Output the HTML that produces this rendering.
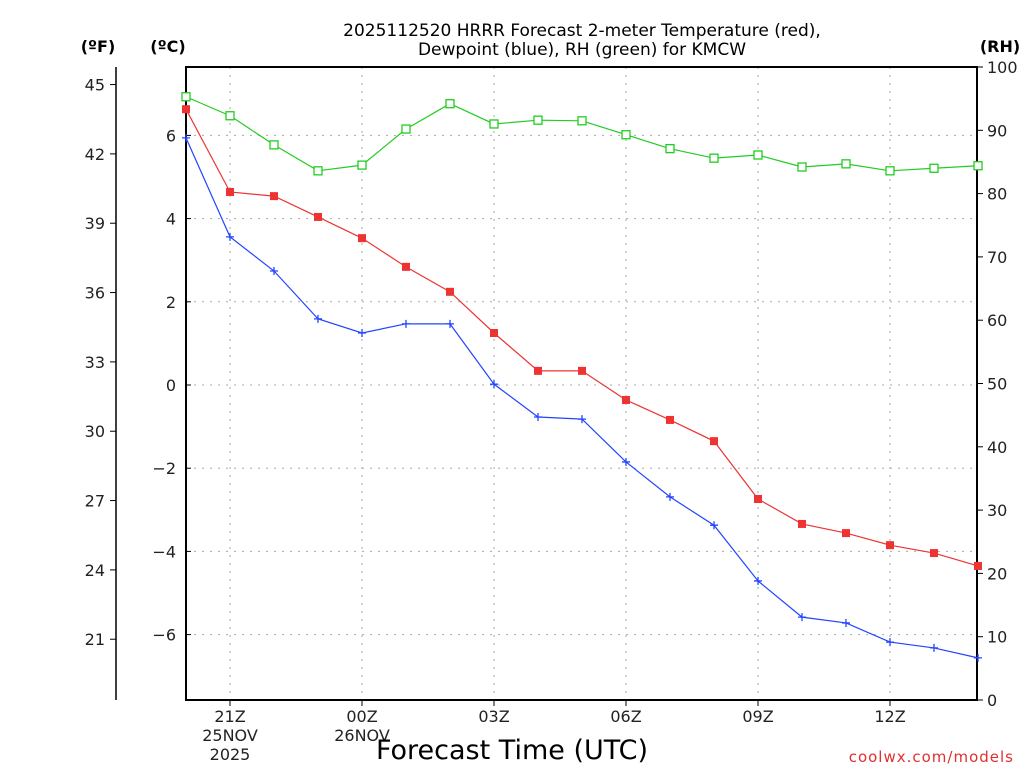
<!DOCTYPE html>
<html><head><meta charset="utf-8"><style>
body{margin:0;background:#fff;width:1024px;height:768px;overflow:hidden}
svg text{font-family:"DejaVu Sans","Liberation Sans",sans-serif}
</style></head><body>
<svg id="c" width="1024" height="768" xmlns="http://www.w3.org/2000/svg"></svg>
<script>
const hours=[20,21,22,23,0,1,2,3,4,5,6,7,8,9,10,11,12,13,14];
const tempC=[6.63,4.64,4.54,4.04,3.53,2.84,2.24,1.25,0.34,0.34,-0.36,-0.84,-1.35,-2.74,-3.34,-3.56,-3.85,-4.04,-4.35];
const dewC=[5.94,3.56,2.74,1.59,1.25,1.47,1.47,0.02,-0.77,-0.82,-1.85,-2.69,-3.37,-4.71,-5.58,-5.72,-6.18,-6.32,-6.56];
const rh=[95.3,92.3,87.7,83.6,84.5,90.2,94.2,91.0,91.6,91.5,89.3,87.1,85.6,86.1,84.2,84.7,83.6,84.0,84.4];
const cTicks=[6,4,2,0,-2,-4,-6];
const fTicks=[45,42,39,36,33,30,27,24,21];
const rhTicks=[100,90,80,70,60,50,40,30,20,10,0];
const xLabels=["21Z","00Z","03Z","06Z","09Z","12Z"];
const xLabelIdx=[1,4,7,10,13,16];

const L=186,R=977,T=67,B=700;
const X=i=>L+i*44;
const YC=c=>385-c*41.6;
const YF=f=>YC((f-32)*5/9);
const YR=r=>B-r*(B-T)/100;
const svg=document.getElementById('c');
const NS="http://www.w3.org/2000/svg";
function mk(tag,at,parent){const e=document.createElementNS(NS,tag);for(const k in at)e.setAttribute(k,at[k]);(parent||svg).appendChild(e);return e;}
function txt(s,x,y,at){const e=mk('text',Object.assign({x:x,y:y},at));e.textContent=s;return e;}

// grid
cTicks.forEach(c=>{const l=mk('line',{x1:L,x2:R,y1:YC(c),y2:YC(c),stroke:'#aaa','stroke-dasharray':'2,6'});

});
xLabelIdx.forEach(i=>{const l=mk('line',{x1:X(i),x2:X(i),y1:T,y2:B,stroke:'#aaa','stroke-dasharray':'2,6'});

});

// frame
const fr=mk('rect',{x:L,y:T,width:R-L,height:B-T,fill:'none',stroke:'#000','stroke-width':2});


const fax=mk('line',{x1:116,x2:116,y1:T,y2:B,stroke:'#000','stroke-width':1.5});



// ticks and labels
cTicks.forEach(c=>{mk('line',{x1:L,x2:L+5,y1:YC(c),y2:YC(c),stroke:'#000'});
const t=txt((c<0?'\u2212':'')+Math.abs(c),176,YC(c)+6,{'font-size':16,'text-anchor':'end',fill:'#222'});

});
fTicks.forEach(f=>{mk('line',{x1:110,x2:116,y1:YF(f),y2:YF(f),stroke:'#000'});
const t=txt(String(f),105,YF(f)+6,{'font-size':16,'text-anchor':'end',fill:'#222'});

});
rhTicks.forEach(r=>{mk('line',{x1:R,x2:R+6,y1:YR(r),y2:YR(r),stroke:'#000'});
const t=txt(String(r),987,YR(r)+6,{'font-size':16,fill:'#222'});

});
xLabelIdx.forEach((i,k)=>{mk('line',{x1:X(i),x2:X(i),y1:B,y2:B+6,stroke:'#000'});
const t=txt(xLabels[k],X(i),722,{'font-size':16,'text-anchor':'middle',fill:'#222'});

});
txt('25NOV',230,741,{'font-size':16,'text-anchor':'middle',fill:'#222'});
txt('2025',230,760,{'font-size':16,'text-anchor':'middle',fill:'#222'});
txt('26NOV',362,741,{'font-size':16,'text-anchor':'middle',fill:'#222'});

// titles
txt('2025112520 HRRR Forecast 2-meter Temperature (red),',582,36,{'font-size':17,'text-anchor':'middle',fill:'#000'});
txt('Dewpoint (blue), RH (green) for KMCW',582,55,{'font-size':17,'text-anchor':'middle',fill:'#000'});
txt('(ºF)',98,52,{'font-size':16,'font-weight':'bold','text-anchor':'middle'});
txt('(ºC)',168,52,{'font-size':16,'font-weight':'bold','text-anchor':'middle'});
txt('(RH)',1000,52,{'font-size':16,'font-weight':'bold','text-anchor':'middle'});
const xt=txt('Forecast Time (UTC)',512,759,{'font-size':27,'text-anchor':'middle',fill:'#000'});


txt('coolwx.com/models',1014,762,{'font-size':15,'text-anchor':'end',fill:'#e03030','letter-spacing':'1'});

// series
function series(vals,yf,color,name,marker){
  const pts=vals.map((v,i)=>X(i)+','+yf(v)).join(' ');
  const p=mk('polyline',{points:pts,fill:'none',stroke:color,'stroke-width':1.2});
  
  
  vals.forEach((v,i)=>{const x=X(i),y=yf(v);let m;
    if(marker==='fill'){m=mk('rect',{x:x-4,y:y-4,width:8,height:8,fill:color});}
    else if(marker==='open'){m=mk('rect',{x:x-4,y:y-4,width:8,height:8,fill:'#fff',stroke:color,'stroke-width':1.3});}
    else {m=mk('path',{d:`M${x-4} ${y}H${x+4}M${x} ${y-4}V${y+4}`,stroke:color,'stroke-width':1.3});}
    
    });
}
series(rh,YR,'#22cc22','rh','open');
series(tempC,YC,'#ee3333','temperature','fill');
series(dewC,YC,'#2244ff','dewpoint','plus');
</script>
</body></html>
